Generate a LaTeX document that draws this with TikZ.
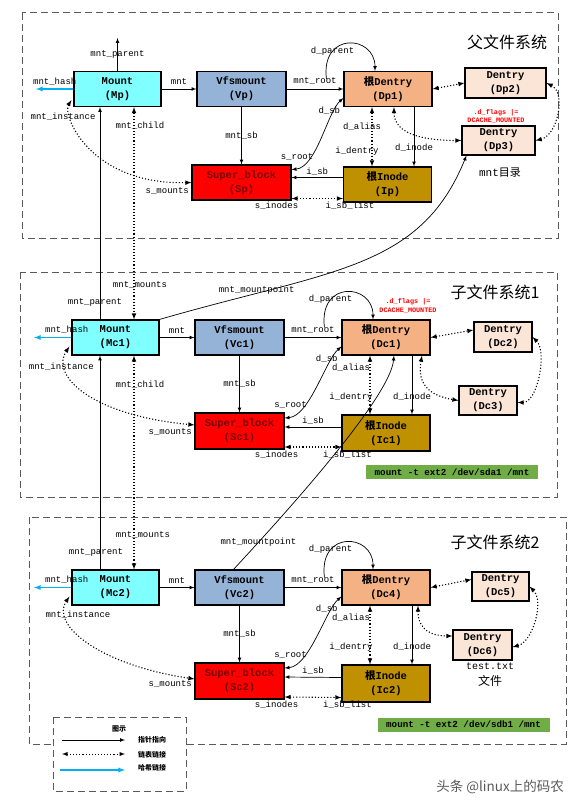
\documentclass[tikz,border=0pt]{standalone}
\usepackage{fontspec}
\setmainfont{Liberation Mono}
\newfontfamily\cjk{Noto Sans CJK SC}
\usetikzlibrary{arrows,calc,positioning}

\definecolor{mountcol}{HTML}{7FFFFF}
\definecolor{vfscol}{HTML}{95B3D7}
\definecolor{rootdcol}{HTML}{F4B183}
\definecolor{subdcol}{HTML}{FBE5D6}
\definecolor{sbcol}{HTML}{FF0000}
\definecolor{sbtext}{HTML}{7A0000}
\definecolor{inodecol}{HTML}{BF9000}
\definecolor{cmdcol}{HTML}{70AD47}
\definecolor{hashcol}{HTML}{00B0F0}
\definecolor{sectcol}{HTML}{5A5A5A}

\tikzset{
  obj/.style={draw,line width=1.1pt,align=center,inner sep=1pt,
              font=\fontsize{10.5}{14}\selectfont\bfseries,
              minimum width=89pt,minimum height=36pt},
  mnt/.style={obj,fill=mountcol,minimum width=87pt,minimum height=35pt},
  vfs/.style={obj,fill=vfscol,minimum height=35pt},
  rootd/.style={obj,fill=rootdcol,minimum width=88pt,minimum height=35pt},
  subd/.style={obj,fill=subdcol,minimum width=58pt,minimum height=30pt},
  sblk/.style={obj,fill=sbcol,text=sbtext},
  inod/.style={obj,fill=inodecol,minimum width=88pt},
  lbl/.style={font=\fontsize{9}{10}\selectfont,inner sep=1pt},
  flag/.style={font=\fontsize{6.8}{7}\selectfont\bfseries,text=red,inner sep=0pt},
  cmd/.style={fill=cmdcol,font=\fontsize{9.2}{10}\selectfont\bfseries,
              minimum width=172pt,minimum height=14pt,inner sep=1pt},
  sect/.style={draw=sectcol,line width=1pt,dash pattern=on 7pt off 4pt},
  ptr/.style={->,>=latex,line width=0.7pt},
  lst/.style={<->,>=latex,line width=1.1pt,dotted},
  hsh/.style={->,>=latex,line width=1.3pt,draw=hashcol},
  systitle/.style={font=\cjk\fontsize{16}{18}\selectfont},
  lgd/.style={font=\cjk\fontsize{7}{8}\selectfont\bfseries,inner sep=1pt}
}

\begin{document}
\begin{tikzpicture}[x=1pt,y=-1pt]
  \useasboundingbox (0,0) rectangle (584,808);
%
  \draw [sect] (22,13) rectangle (558,238);
  \draw [sect] (20,272) rectangle (557,497);
  \draw [sect] (29,517) rectangle (566,744);
%
  \node [systitle] (t1) at (507,42) {父文件系统};
  \node [systitle] (t2) at (495,292) {子文件系统1};
  \node [systitle] (t3) at (495,542) {子文件系统2};
%
% parent file system
%
  \node [mnt]   (Mp)  at (117.5,89) {Mount\\(Mp)};
  \node [vfs]   (Vp)  at (241.5,89) {Vfsmount\\(Vp)};
  \node [rootd] (Dp1) at (388,89)   {{\cjk 根}Dentry\\(Dp1)};
  \node [subd,minimum width=81pt] (Dp2) at (505.5,83) {Dentry\\(Dp2)};
  \node [subd,minimum width=73pt,minimum height=29pt] (Dp3) at (498.5,140.5) {Dentry\\(Dp3)};
  \node [sblk,minimum width=99pt,minimum height=35pt] (Sp) at (241.5,182.5) {Super\_block\\(Sp)};
  \node [inod,minimum height=35pt] (Ip) at (387.5,184.5) {{\cjk 根}Inode\\(Ip)};
  \node [flag] (fp1) at (496,113) {.d\_flags |=};
  \node [flag] (fp2) at (496,121) {DCACHE\_MOUNTED};
  \node [font=\fontsize{11}{12}\selectfont] (mntdir) at (500,173) {mnt{\cjk 目录}};
%
  \coordinate (Mpup) at (117.5,38);
  \coordinate (Mphash) at (36,89);
  \coordinate (Dp1loop) at ($(Dp1.west)+(-17,-10)$);
%
  \draw [ptr] (Mp) -- (Mpup) node [lbl,midway] {mnt\_parent} ;
  \draw [hsh] (Mp) -- (Mphash) node [lbl,midway,above=2pt] {mnt\_hash} ;
  \draw [ptr] (Mp) -- (Vp) node [lbl,midway,above=3pt] {mnt} ;
  \draw [ptr] (Vp) -- (Dp1) node [lbl,midway,above=3pt] {mnt\_root} ;
  \draw [ptr] (Vp) -- (Sp) node [lbl,midway] {mnt\_sb} ;
  \draw [ptr] (Dp1loop) .. controls +(-6,-48) and +(0,-36) .. ($(Dp1.north)+(-13,0)$)
        node [lbl,pos=0.27] {d\_parent} ;
  \draw [ptr,<->] ($(Sp.east)+(0,-13)$) .. controls +(25,-2) and +(-16,14) .. ($(Dp1.west)+(0,9)$)
        node [lbl,pos=0.2,above=1pt,xshift=-8pt] {s\_root}
        node [lbl,pos=0.8,xshift=-5pt] {d\_sb} ;
  \draw [lst] ($(Dp1.south)+(-16,0)$) -- ($(Ip.north)+(-15.5,0)$)
        node [lbl,pos=0.33,xshift=-10pt] {d\_alias}
        node [lbl,pos=0.75,xshift=-15pt] {i\_dentry} ;
  \draw [ptr] ($(Dp1.south)+(26,0)$) -- ($(Ip.north)+(26.5,0)$) node [lbl,pos=0.68] {d\_inode} ;
  \draw [ptr] ($(Ip.west)+(0,-7)$) -- ($(Sp.east)+(0,-5)$) node [lbl,midway,above=1pt] {i\_sb} ;
  \draw [lst] ($(Sp.east)+(0,16)$) -- ($(Ip.west)+(0,14)$)
        node [lbl,pos=0,below=2pt,xshift=-15pt] {s\_inodes}
        node [lbl,pos=1,below=2pt,xshift=7pt] {i\_sb\_list} ;
  \draw [lst] (Dp1.east) -- (Dp2.west) ;
  \draw [lst] ($(Dp1.south)+(6,0)$) .. controls +(0,28) and +(-35,0) .. (Dp3.west) ;
  \draw [lst] (Dp2.east) .. controls +(20,10) and +(22,-5) .. (Dp3.east) ;
  \draw [lst] ($(Mp.south west)+(-2,-7)$) .. controls (62,115) and (90,185) .. (Sp.west)
        node [lbl,pos=0.22,xshift=-8pt] {mnt\_instance}
        node [lbl,pos=1,below left=3pt and 1pt] {s\_mounts} ;
%
% child file system 1
%
  \node [mnt]   (Mc1) at (115.5,337.5) {Mount\\(Mc1)};
  \node [vfs]   (Vc1) at (239.5,337.5) {Vfsmount\\(Vc1)};
  \node [rootd] (Dc1) at (386,337.5)   {{\cjk 根}Dentry\\(Dc1)};
  \node [subd] (Dc2) at (503,337) {Dentry\\(Dc2)};
  \node [subd,minimum height=29pt] (Dc3) at (488,400.5) {Dentry\\(Dc3)};
  \node [sblk] (Sc1) at (239.5,431) {Super\_block\\(Sc1)};
  \node [inod] (Ic1) at (386,433) {{\cjk 根}Inode\\(Ic1)};
  \node [flag] (fc1) at (408,302) {.d\_flags |=};
  \node [flag] (fc2) at (408,311) {DCACHE\_MOUNTED};
  \node [cmd] (cmd1) at (452,472) {mount -t ext2 /dev/sda1 /mnt};
%
  \coordinate (Mc1hash) at (34,337.5);
  \coordinate (Dc1loop) at ($(Dc1.west)+(-17,-10)$);
%
  \draw [ptr] ($(Mc1.north)+(-15.5,0)$) -- ($(Mp.south)+(-17.5,0)$)
        node [lbl,pos=0.08,xshift=-5pt] {mnt\_parent} ;
  \draw [lst] ($(Mp.south)+(16.5,0)$) -- ($(Mc1.north)+(18.5,0)$)
        node [lbl,pos=0.09,xshift=6pt] {mnt\_child}
        node [lbl,pos=0.84,xshift=6pt] {mnt\_mounts} ;
  \draw [ptr] (Mc1.north east) .. controls (330,270) and (420,270) .. ($(Dp3.south west)+(5,0)$)
        node [lbl,pos=0.21,yshift=3pt] {mnt\_mountpoint} ;
  \draw [hsh] (Mc1) -- (Mc1hash) node [lbl,midway,above=2pt,xshift=14pt] {mnt\_hash} ;
  \draw [ptr] (Mc1) -- (Vc1) node [lbl,midway,above=3pt] {mnt} ;
  \draw [ptr] (Vc1) -- (Dc1) node [lbl,midway,above=3pt] {mnt\_root} ;
  \draw [ptr] (Vc1) -- (Sc1) node [lbl,midway] {mnt\_sb} ;
  \draw [ptr] (Dc1loop) .. controls +(-6,-48) and +(0,-36) .. ($(Dc1.north)+(-13,0)$)
        node [lbl,pos=0.27] {d\_parent} ;
  \draw [ptr,<->] ($(Sc1.east)+(0,-13)$) .. controls +(25,-2) and +(-16,14) .. ($(Dc1.west)+(0,9)$)
        node [lbl,pos=0.2,above=1pt,xshift=-8pt] {s\_root}
        node [lbl,pos=0.8,xshift=-5pt] {d\_sb} ;
  \draw [lst] ($(Dc1.south)+(-16,0)$) -- ($(Ic1.north)+(-16,0)$)
        node [lbl,pos=0.2,xshift=-19pt] {d\_alias}
        node [lbl,pos=0.7,xshift=-19pt] {i\_dentry} ;
  \draw [ptr] ($(Dc1.south)+(26,0)$) -- ($(Ic1.north)+(26,0)$) node [lbl,pos=0.7] {d\_inode} ;
  \draw [ptr] ($(Ic1.west)+(0,-6)$) -- ($(Sc1.east)+(0,-4)$) node [lbl,midway,above=1pt] {i\_sb} ;
  \draw [lst] ($(Sc1.east)+(0,16)$) -- ($(Ic1.west)+(0,14)$)
        node [lbl,pos=0,below=2pt,xshift=-8pt] {s\_inodes}
        node [lbl,pos=1,below=2pt,xshift=6pt] {i\_sb\_list} ;
  \draw [lst] (Dc1.east) -- ($(Dc2.west)+(0,-7)$) ;
  \draw [lst] ($(Dc1.south)+(36,0)$) .. controls +(-5,28) and +(-30,-5) .. (Dc3.west) ;
  \draw [lst] (Dc2.east) .. controls +(15,15) and +(20,0) .. ($(Dc3.east)+(0,2)$) ;
  \draw [lst] ($(Mc1.south west)+(-2,-9)$) .. controls (50,375) and (90,415) .. ($(Sc1.west)+(0,-6)$)
        node [lbl,pos=0.22,xshift=-4pt] {mnt\_instance}
        node [lbl,pos=1,below left=2pt and 1pt] {s\_mounts} ;
%
% child file system 2
%
  \node [mnt]   (Mc2) at (115.5,587.5) {Mount\\(Mc2)};
  \node [vfs]   (Vc2) at (239.5,587.5) {Vfsmount\\(Vc2)};
  \node [rootd] (Dc4) at (386,587.5)   {{\cjk 根}Dentry\\(Dc4)};
  \node [subd,minimum width=57pt,minimum height=29pt] (Dc5) at (500.5,586.5) {Dentry\\(Dc5)};
  \node [subd,minimum width=59pt] (Dc6) at (482.5,645) {Dentry\\(Dc6)};
  \node [sblk] (Sc2) at (239.5,681) {Super\_block\\(Sc2)};
  \node [inod,minimum height=37pt] (Ic2) at (386,683.5) {{\cjk 根}Inode\\(Ic2)};
  \node [font=\fontsize{10}{11}\selectfont,inner sep=0pt] (txt) at (490,666) {test.txt};
  \node [font=\cjk\fontsize{12}{13}\selectfont,inner sep=0pt] (file) at (490,681) {文件};
  \node [cmd] (cmd2) at (463.5,724.5) {mount -t ext2 /dev/sdb1 /mnt};
%
  \coordinate (Mc2hash) at (34,587.5);
  \coordinate (Dc4loop) at ($(Dc4.west)+(-17,-10)$);
%
  \draw [ptr] ($(Mc2.north)+(-15.5,0)$) -- ($(Mc1.south)+(-15.5,0)$)
        node [lbl,pos=0.08,xshift=-4pt] {mnt\_parent} ;
  \draw [lst] ($(Mc1.south)+(18.5,0)$) -- ($(Mc2.north)+(18.5,0)$)
        node [lbl,pos=0.135,xshift=6pt] {mnt\_child}
        node [lbl,pos=0.84,xshift=9pt] {mnt\_mounts} ;
  \draw [ptr] ($(Vc2.north)+(-6,0)$) .. controls (270,530) and (390,400) .. ($(Dc1.south)+(8,0)$)
        node [lbl,pos=0.17] {mnt\_mountpoint} ;
  \draw [hsh] (Mc2) -- (Mc2hash) node [lbl,midway,above=2pt,xshift=14pt] {mnt\_hash} ;
  \draw [ptr] (Mc2) -- (Vc2) node [lbl,midway,above=3pt] {mnt} ;
  \draw [ptr] (Vc2) -- (Dc4) node [lbl,midway,above=3pt] {mnt\_root} ;
  \draw [ptr] (Vc2) -- (Sc2) node [lbl,midway] {mnt\_sb} ;
  \draw [ptr] (Dc4loop) .. controls +(-6,-48) and +(0,-36) .. ($(Dc4.north)+(-13,0)$)
        node [lbl,pos=0.27] {d\_parent} ;
  \draw [ptr,<->] ($(Sc2.east)+(0,-13)$) .. controls +(25,-2) and +(-16,14) .. ($(Dc4.west)+(0,9)$)
        node [lbl,pos=0.2,above=1pt,xshift=-8pt] {s\_root}
        node [lbl,pos=0.8,xshift=-5pt] {d\_sb} ;
  \draw [lst] ($(Dc4.south)+(-16,0)$) -- ($(Ic2.north)+(-16,0)$)
        node [lbl,pos=0.2,xshift=-19pt] {d\_alias}
        node [lbl,pos=0.7,xshift=-19pt] {i\_dentry} ;
  \draw [ptr] ($(Dc4.south)+(26,0)$) -- ($(Ic2.north)+(26,0)$) node [lbl,pos=0.7] {d\_inode} ;
  \draw [ptr] ($(Ic2.west)+(0,-6)$) -- ($(Sc2.east)+(0,-4)$) node [lbl,midway,above=1pt] {i\_sb} ;
  \draw [lst] ($(Sc2.east)+(0,16)$) -- ($(Ic2.west)+(0,14)$)
        node [lbl,pos=0,below=2pt,xshift=-8pt] {s\_inodes}
        node [lbl,pos=1,below=2pt,xshift=6pt] {i\_sb\_list} ;
  \draw [lst] (Dc4.east) -- ($(Dc5.west)+(0,-7)$) ;
  \draw [lst] ($(Dc4.south)+(32,0)$) .. controls +(0,25) and +(-20,0) .. ($(Dc6.west)+(0,-9)$) ;
  \draw [lst] (Dc5.east) .. controls +(15,15) and +(20,-5) .. ($(Dc6.east)+(0,2)$) ;
  \draw [lst] ($(Mc2.south west)+(-2,-9)$) .. controls (50,625) and (100,665) .. ($(Sc2.west)+(0,-2)$)
        node [lbl,pos=0.2,xshift=12pt] {mnt\_instance}
        node [lbl,pos=1,below left=0pt and 1pt] {s\_mounts} ;
%
% legend
%
  \draw [sect,fill=white] (53,717) rectangle (186,791);
  \node [lgd] (lg0) at (119,729) {图示};
  \coordinate (lg1a) at (62,740);  \coordinate (lg1b) at (125,740);
  \coordinate (lg2a) at (62,754);  \coordinate (lg2b) at (125,754);
  \coordinate (lg3a) at (60,770);  \coordinate (lg3b) at (125,770);
  \draw [ptr] (lg1a) -- (lg1b) ;
  \draw [lst,line width=0.9pt] (lg2a) -- (lg2b) ;
  \draw [hsh] (lg3a) -- (lg3b) ;
  \node [lgd] (lg1) at (152,740) {指针指向};
  \node [lgd] (lg2) at (152,755) {链表链接};
  \node [lgd] (lg3) at (152,768) {哈希链接};
%
  \node [font=\cjk\fontsize{13.5}{15}\selectfont,text=black!65] (wm) at (500,787) {头条 @linux上的码农};
\end{tikzpicture}
\end{document}
